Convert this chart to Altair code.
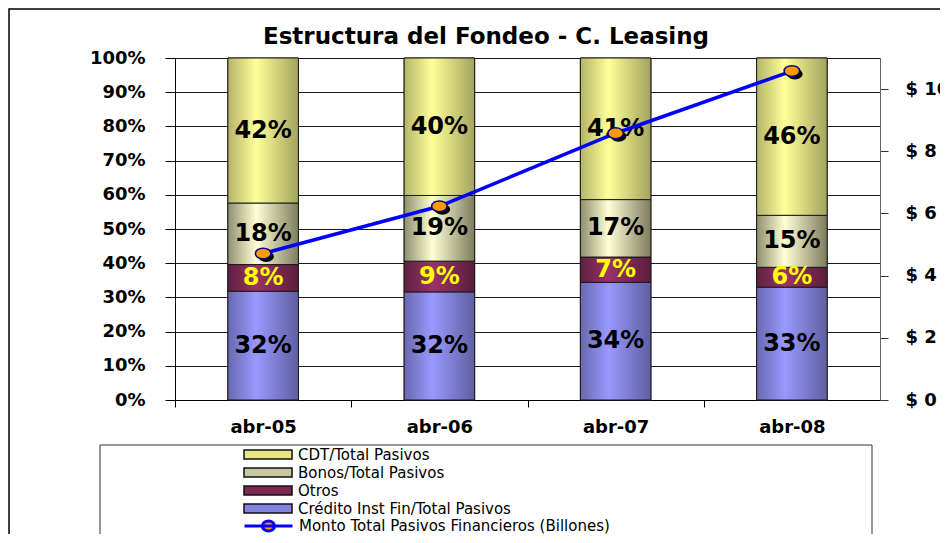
import altair as alt
import pandas as pd

# ---------------- data ----------------
months = ["abr-05", "abr-06", "abr-07", "abr-08"]
series_names = ["CDT/Total Pasivos", "Bonos/Total Pasivos", "Otros", "Crédito Inst Fin/Total Pasivos"]
credito = [31.8, 31.6, 34.4, 33.0]
otros = [7.8, 9.0, 7.4, 5.8]
bonos = [18.0, 19.2, 16.8, 15.2]
cdt = [42.4, 40.2, 41.4, 46.0]
monto = [4.71, 6.23, 8.58, 10.58]
line_name = "Monto Total Pasivos Financieros (Billones)"
title_text = "Estructura del Fondeo - C. Leasing"
pct_ticks = list(range(0, 101, 10))
money_ticks = [0, 2, 4, 6, 8, 10]
legend_colors = ["#E6E685", "#C8C8A0", "#7A2850", "#8484E0"]

FONT = "DejaVu Sans"

rows = []
stack_src = [(series_names[3], credito), (series_names[2], otros), (series_names[1], bonos), (series_names[0], cdt)]
for i, m in enumerate(months):
    for order, (name, vals) in enumerate(stack_src):
        rows.append({"month": m, "series": name, "value": vals[i], "order": order})
bars_df = pd.DataFrame(rows)
line_df = pd.DataFrame({"month": months, "monto": monto, "series": [line_name] * len(months)})


def grad(dark, light, darker):
    return {"gradient": "linear", "x1": 0, "y1": 0, "x2": 1, "y2": 0,
            "stops": [{"offset": 0, "color": dark}, {"offset": 0.4, "color": light},
                      {"offset": 1, "color": darker}]}


g_cdt = grad("#B5B56A", "#FFFF99", "#A3A35E")
g_bon = grad("#8F8F6E", "#FFFFD6", "#7D7D5E")
g_otr = grad("#5E1F40", "#993366", "#5A1E3D")
g_cre = grad("#6868B0", "#9999FF", "#5E5EA0")

x_enc = alt.X("month:N", sort=months,
              scale=alt.Scale(paddingInner=0.6, paddingOuter=0.3),
              axis=alt.Axis(title=None, labelAngle=0, labelFont=FONT, labelFontSize=18,
                            labelFontWeight="bold", labelColor="black", tickSize=7,
                            tickColor="black", domainColor="black", tickOffset=-88,
                            labelOffset=88, labelPadding=11, grid=False))

left_axis = alt.Axis(values=pct_ticks, labelExpr="datum.value + '%'", title=None, grid=True,
                     gridColor="#1a1a1a", gridWidth=1, tickSize=10, tickColor="black",
                     domainColor="black", labelPadding=20, labelFont=FONT, labelFontSize=18,
                     labelFontWeight="bold", labelColor="black")
left_scale = alt.Scale(domain=[0, 100], nice=False)

# legend symbol shapes (unit = 8.5 px with symbolSize 289): 48 px wide, 9 px tall
rect_path = "M-1,-0.53H4.65V0.53H-1Z"
line_path = "M-1,0H4.65M2.53,0A0.71,0.59,0,1,1,1.11,0A0.71,0.59,0,1,1,2.53,0Z"

legend_bars = alt.Legend(
    title=None, orient="none", legendX=68, legendY=387, direction="vertical",
    symbolType=rect_path, symbolSize=289, symbolStrokeColor="#111111", symbolStrokeWidth=1.5,
    symbolOpacity=1, labelFont=FONT, labelFontSize=15, labelColor="black", labelLimit=800,
    labelOffset=36, rowPadding=0,
)
legend_line = alt.Legend(
    title=None, orient="none", legendX=68, legendY=458, direction="vertical",
    symbolType=line_path, symbolSize=289, symbolStrokeColor="#0000FF", symbolFillColor="#FF9900",
    symbolStrokeWidth=3, symbolOpacity=1, labelFont=FONT, labelFontSize=15, labelColor="black",
    labelLimit=800, labelOffset=36,
)

base = alt.Chart(bars_df).transform_stack(
    stack="value", as_=["y0", "y1"], groupby=["month"],
    sort=[alt.SortField("order", "ascending")]
)

bars_solid = base.mark_bar(stroke="#1a1a1a", strokeWidth=1, opacity=1).encode(
    x=x_enc,
    y=alt.Y("y0:Q", scale=left_scale, axis=left_axis),
    y2="y1:Q",
    color=alt.Color("series:N", scale=alt.Scale(domain=series_names, range=legend_colors),
                    legend=legend_bars),
)

bars = base.mark_bar(stroke="#1a1a1a", strokeWidth=1).encode(
    x=alt.X("month:N", sort=months),
    y=alt.Y("y0:Q", scale=left_scale, axis=left_axis),
    y2="y1:Q",
    fill={"condition": [
        {"test": f"datum.series == '{series_names[0]}'", "value": g_cdt},
        {"test": f"datum.series == '{series_names[1]}'", "value": g_bon},
        {"test": f"datum.series == '{series_names[2]}'", "value": g_otr},
    ], "value": g_cre},
)

labels = base.transform_calculate(
    mid="(datum.y0 + datum.y1) / 2",
    lab="format(datum.value, '.0f') + '%'",
).mark_text(font=FONT, fontSize=24, fontWeight="bold", baseline="middle", align="center").encode(
    x=alt.X("month:N", sort=months),
    y=alt.Y("mid:Q", scale=left_scale, axis=left_axis),
    text="lab:N",
    color=alt.condition(f"datum.series == '{series_names[2]}'", alt.value("#FFFF00"), alt.value("black")),
)

one = pd.DataFrame({"t": [title_text]})
title = alt.Chart(one).mark_text(font=FONT, fontSize=23, fontWeight="bold", color="black",
                                 align="center", baseline="middle").encode(
    x=alt.value(311), y=alt.value(-21), text="t:N")

frame = alt.Chart(one).mark_rect(fillOpacity=0, stroke="black", strokeWidth=1.5).encode(
    x=alt.value(-166), x2=alt.value(900), y=alt.value(-49), y2=alt.value(700))

legend_box = alt.Chart(one).mark_rect(fillOpacity=0, stroke="#333333", strokeWidth=1).encode(
    x=alt.value(-75), x2=alt.value(697), y=alt.value(387), y2=alt.value(700))

right_scale = alt.Scale(domain=[0, 11], nice=False)
right_axis = alt.Axis(orient="right", values=money_ticks, labelExpr="'$ ' + datum.value", title=None,
                      grid=False, tickSize=8, tickColor="#333333", domainColor="#666666",
                      labelPadding=17, labelFont=FONT, labelFontSize=18, labelFontWeight="bold",
                      labelColor="black")

line_base = alt.Chart(line_df).encode(
    x=alt.X("month:N", sort=months),
    y=alt.Y("monto:Q", scale=right_scale, axis=right_axis),
)

line = line_base.mark_line(strokeWidth=3.5).encode(
    stroke=alt.Stroke("series:N", scale=alt.Scale(domain=[line_name], range=["#0000FF"]),
                      legend=legend_line)
)

ell = "M-1,0A1,0.7,0,1,1,1,0A1,0.7,0,1,1,-1,0Z"
shadow = line_base.mark_point(shape=ell, size=240, filled=True, color="black", opacity=1,
                              xOffset=3, yOffset=3)
points = line_base.mark_point(shape=ell, size=240, filled=True, fill="#FF9900", stroke="#000080",
                              strokeWidth=1.5, opacity=1)

left_layer = alt.layer(frame, legend_box, title, bars_solid, bars, labels)
right_layer = alt.layer(line, shadow, points)

chart = alt.layer(left_layer, right_layer).resolve_scale(y="independent").properties(
    width=705, height=342,
    padding={"left": 167, "top": 50, "right": 60, "bottom": 134},
    autosize=alt.AutoSizeParams(type="none"),
).configure_view(stroke="#808080", strokeWidth=1)

chart.save("out.html", embed_options={"renderer": "svg", "actions": False})
